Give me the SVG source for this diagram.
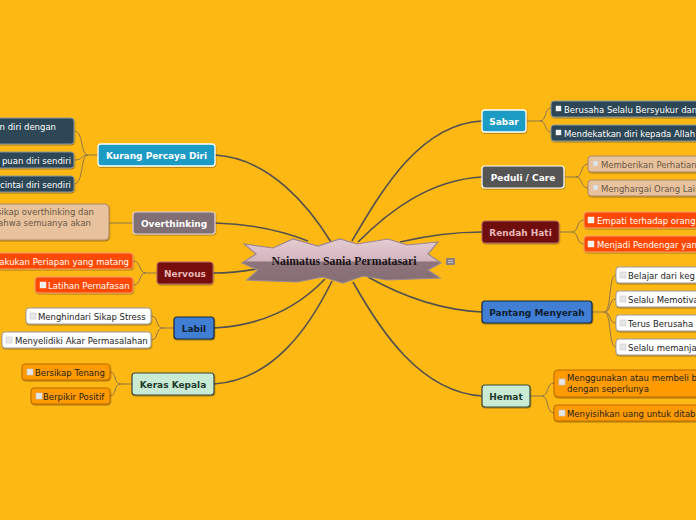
<svg xmlns="http://www.w3.org/2000/svg" width="696" height="520" viewBox="0 0 696 520">
<defs>
<linearGradient id="star" x1="0" y1="0" x2="0" y2="1">
<stop offset="0" stop-color="#e6ccd4"/>
<stop offset="0.5" stop-color="#d2b4bd"/>
<stop offset="0.52" stop-color="#8e747b"/>
<stop offset="1" stop-color="#856d74"/>
</linearGradient>
<filter id="sh" x="-10%" y="-20%" width="120%" height="150%">
<feDropShadow dx="0.5" dy="1" stdDeviation="0.6" flood-color="#000" flood-opacity="0.35"/>
</filter>
</defs>
<style>
.main{font-family:"DejaVu Sans",Verdana,sans-serif;font-size:9px;font-weight:bold;text-anchor:middle}
.sub{font-family:"DejaVu Sans",Verdana,sans-serif;font-size:8.5px}
.c0{fill:none;stroke:#505050;stroke-width:1.6}
.c1{fill:none;stroke:#8c7650;stroke-width:1}
.teal{fill:#1c9cc4;stroke:#fff;stroke-width:1.3}
.slate{fill:#2d4657;stroke:#8a9aa0;stroke-width:1}
.tan{fill:#e8c29c;stroke:#b08860;stroke-width:1}
.red{fill:#ff4a00;stroke:#f5a070;stroke-width:1}
.wht{fill:#ffffff;stroke:#9a9a9a;stroke-width:1}
.org{fill:#ff9a00;stroke:#b86a00;stroke-width:1}
.ico{fill:#e6e6e6;stroke:#c8c8c8;stroke-width:0.6}
.icoW{fill:#f0f0f0;stroke:#ffffff;stroke-width:0.4}
.tw{fill:#ffffff}
.td{fill:#222222}
.tt{fill:#6a5848}
</style>
<rect width="696" height="520" fill="#fdb813"/>

<g id="connectors">
<path class="c0" d="M215,155 C270,158 310,208 331,242"/>
<path class="c0" d="M215,223 C255,224 285,232 308,241"/>
<path class="c0" d="M213,273 C230,273 246,271 262,268"/>
<path class="c0" d="M214,328 C270,325 305,300 325,279"/>
<path class="c0" d="M214,384 C272,380 308,330 332,281"/>
<path class="c0" d="M352,241 C382,190 420,124 482,121"/>
<path class="c0" d="M358,242 C390,210 430,180 482,177"/>
<path class="c0" d="M400,242 C430,235 455,232 482,232"/>
<path class="c0" d="M368,277 C400,295 440,310 482,312"/>
<path class="c0" d="M353,282 C380,330 420,392 482,396"/>

<path class="c1" d="M98,155 H88 C80,155 84,131 74,131 M88,155 C80,155 84,160 74,160 M88,155 C80,155 84,184 74,184"/>
<path class="c1" d="M133,223 H109"/>
<path class="c1" d="M157,273 H146 C138,273 142,261 133,261 M146,273 C138,273 142,285 133,285"/>
<path class="c1" d="M174,328 H163 C155,328 159,316 151,316 M163,328 C155,328 159,340 151,340"/>
<path class="c1" d="M132,384 H121 C113,384 117,372 110,372 M121,384 C113,384 117,396 110,396"/>
<path class="c1" d="M526,121 H540 C547,121 544,108 551,108 M540,121 C547,121 544,132 551,132"/>
<path class="c1" d="M564,177 H576 C583,177 580,164 588,164 M576,177 C583,177 580,188 588,188"/>
<path class="c1" d="M559,232 H572 C579,232 576,220 584,220 M572,232 C579,232 576,244 584,244"/>
<path class="c1" d="M592,312 H604 C612,312 608,275 616,275 M604,312 C612,312 608,299 616,299 M604,312 C612,312 608,323 616,323 M604,312 C612,312 608,347 616,347"/>
<path class="c1" d="M530,396 H542 C549,396 546,383 554,383 M542,396 C549,396 546,413 554,413"/>
</g>

<g id="center">
<polygon points="244,244 273,248 293,239 318,246 340,239 357,244 388,239 407,245 438,242 428,254 441,263 428,270 440,278 387,280 363,276 343,283 323,277 297,282 247,280 258,270 242,263 256,254" fill="url(#star)" stroke="#9a8890" stroke-width="1.2"/>
<text x="344" y="265" font-family="'Liberation Serif','DejaVu Serif',serif" font-size="11.8" font-weight="bold" text-anchor="middle" fill="#1a1418">Naimatus Sania Permatasari</text>
<rect x="446" y="258" width="9" height="7" rx="1" fill="#8a8084"/>
<path d="M448,262.5 h5 M448,260.5 h5" stroke="#d8d0d2" stroke-width="0.8"/>
</g>

<g id="kurang">
<rect x="98" y="144" width="117" height="22" rx="3" class="teal" filter="url(#sh)"/>
<text x="156.5" y="158.5" class="main tw">Kurang Percaya Diri</text>
</g>
<g id="kurang-1">
<rect x="-150" y="118" width="224" height="26" rx="3" class="slate" filter="url(#sh)"/>
<text x="56" y="130" class="sub tw" text-anchor="end">n diri dengan</text>
</g>
<g id="kurang-2">
<rect x="-150" y="152" width="224" height="16" rx="3" class="slate" filter="url(#sh)"/>
<text x="71" y="163.5" class="sub tw" text-anchor="end">puan diri sendiri</text>
</g>
<g id="kurang-3">
<rect x="-150" y="176" width="224" height="16" rx="3" class="slate" filter="url(#sh)"/>
<text x="71" y="187.5" class="sub tw" text-anchor="end">cintai diri sendiri</text>
</g>

<g id="overthinking">
<rect x="133" y="212" width="82" height="22" rx="3" fill="#806f74" stroke="#e0d4d8" stroke-width="1.2" filter="url(#sh)"/>
<text x="174" y="226.5" class="main tw">Overthinking</text>
</g>
<g id="overthinking-1">
<rect x="-150" y="204" width="259" height="36" rx="4" class="tan" filter="url(#sh)"/>
<text x="94" y="215" class="sub tt" text-anchor="end">sikap overthinking dan</text>
<text x="91" y="226" class="sub tt" text-anchor="end">ahwa semuanya akan</text>
</g>

<g id="nervous">
<rect x="157" y="262" width="56" height="22" rx="3" fill="#780c0c" stroke="#b06868" stroke-width="1" filter="url(#sh)"/>
<text x="185" y="276.5" class="main" fill="#e8b8b8">Nervous</text>
</g>
<g id="nervous-1">
<rect x="-150" y="253" width="283" height="16" rx="3" class="red" filter="url(#sh)"/>
<text x="129" y="264.5" class="sub tw" text-anchor="end">akukan Periapan yang matang</text>
</g>
<g id="nervous-2">
<rect x="35" y="277" width="98" height="16" rx="3" class="red" filter="url(#sh)"/>
<rect x="40" y="282" width="6" height="6" class="icoW"/>
<text x="48" y="288.5" class="sub tw">Latihan Pernafasan</text>
</g>

<g id="labil">
<rect x="174" y="317" width="40" height="22" rx="3" fill="#3f7fd4" stroke="#1a2a40" stroke-width="1.2" filter="url(#sh)"/>
<text x="194" y="331.5" class="main" fill="#0e1e30">Labil</text>
</g>
<g id="labil-1">
<rect x="26" y="308" width="125" height="16" rx="3" class="wht" filter="url(#sh)"/>
<rect x="30" y="313" width="6" height="6" class="ico"/>
<text x="38" y="319.5" class="sub td">Menghindari Sikap Stress</text>
</g>
<g id="labil-2">
<rect x="2" y="332" width="149" height="16" rx="3" class="wht" filter="url(#sh)"/>
<rect x="6" y="337" width="6" height="6" class="ico"/>
<text x="15" y="343.5" class="sub td">Menyelidiki Akar Permasalahan</text>
</g>

<g id="keras">
<rect x="132" y="373" width="82" height="22" rx="3" fill="#c9ead3" stroke="#3a4a3e" stroke-width="1.2" filter="url(#sh)"/>
<text x="173" y="387.5" class="main" fill="#1e3a2e">Keras Kepala</text>
</g>
<g id="keras-1">
<rect x="22" y="364" width="88" height="16" rx="3" class="org" filter="url(#sh)"/>
<rect x="27" y="369" width="6" height="6" class="ico"/>
<text x="35" y="375.5" class="sub td">Bersikap Tenang</text>
</g>
<g id="keras-2">
<rect x="31" y="388" width="79" height="16" rx="3" class="org" filter="url(#sh)"/>
<rect x="36" y="393" width="6" height="6" class="ico"/>
<text x="43" y="399.5" class="sub td">Berpikir Positif</text>
</g>

<g id="sabar">
<rect x="482" y="110" width="44" height="22" rx="3" class="teal" filter="url(#sh)"/>
<text x="504" y="124.5" class="main tw">Sabar</text>
</g>
<g id="sabar-1">
<rect x="551" y="101" width="200" height="16" rx="3" class="slate" filter="url(#sh)"/>
<rect x="556" y="106" width="5" height="5" class="icoW"/>
<text x="564" y="112.5" class="sub tw">Berusaha Selalu Bersyukur dan</text>
</g>
<g id="sabar-2">
<rect x="551" y="125" width="200" height="16" rx="3" class="slate" filter="url(#sh)"/>
<rect x="556" y="130" width="5" height="5" class="icoW"/>
<text x="564" y="136.5" class="sub tw">Mendekatkan diri kepada Allah</text>
</g>

<g id="peduli">
<rect x="482" y="166" width="82" height="22" rx="3" fill="#545454" stroke="#ffffff" stroke-width="1.2" filter="url(#sh)"/>
<text x="523" y="180.5" class="main tw">Peduli / Care</text>
</g>
<g id="peduli-1">
<rect x="588" y="156" width="160" height="16" rx="3" class="tan" filter="url(#sh)"/>
<rect x="593" y="161" width="5" height="5" class="ico"/>
<text x="601" y="167.5" class="sub tt">Memberikan Perhatian</text>
</g>
<g id="peduli-2">
<rect x="588" y="180" width="160" height="16" rx="3" class="tan" filter="url(#sh)"/>
<rect x="593" y="185" width="5" height="5" class="ico"/>
<text x="601" y="191.5" class="sub tt">Menghargai Orang Lain</text>
</g>

<g id="rendah">
<rect x="482" y="221" width="77" height="22" rx="3" fill="#700a0a" stroke="#b06868" stroke-width="1" filter="url(#sh)"/>
<text x="520.5" y="235.5" class="main" fill="#e8b8b8">Rendah Hati</text>
</g>
<g id="rendah-1">
<rect x="584" y="212" width="160" height="16" rx="3" class="red" filter="url(#sh)"/>
<rect x="588" y="217" width="6" height="6" class="icoW"/>
<text x="597" y="223.5" class="sub tw">Empati terhadap orang</text>
</g>
<g id="rendah-2">
<rect x="584" y="236" width="160" height="16" rx="3" class="red" filter="url(#sh)"/>
<rect x="588" y="241" width="6" height="6" class="icoW"/>
<text x="597" y="247.5" class="sub tw">Menjadi Pendengar yan</text>
</g>

<g id="pantang">
<rect x="482" y="301" width="110" height="22" rx="3" fill="#3f7fd4" stroke="#1a2a40" stroke-width="1.2" filter="url(#sh)"/>
<text x="537" y="315.5" class="main" fill="#0e1e30">Pantang Menyerah</text>
</g>
<g id="pantang-1">
<rect x="616" y="267" width="120" height="16" rx="3" class="wht" filter="url(#sh)"/>
<rect x="620" y="272" width="6" height="6" class="ico"/>
<text x="628" y="278.5" class="sub td">Belajar dari keg</text>
</g>
<g id="pantang-2">
<rect x="616" y="291" width="120" height="16" rx="3" class="wht" filter="url(#sh)"/>
<rect x="620" y="296" width="6" height="6" class="ico"/>
<text x="628" y="302.5" class="sub td">Selalu Memotiva</text>
</g>
<g id="pantang-3">
<rect x="616" y="315" width="120" height="16" rx="3" class="wht" filter="url(#sh)"/>
<rect x="620" y="320" width="6" height="6" class="ico"/>
<text x="628" y="326.5" class="sub td">Terus Berusaha</text>
</g>
<g id="pantang-4">
<rect x="616" y="339" width="120" height="16" rx="3" class="wht" filter="url(#sh)"/>
<rect x="620" y="344" width="6" height="6" class="ico"/>
<text x="628" y="350.5" class="sub td">Selalu memanja</text>
</g>

<g id="hemat">
<rect x="482" y="385" width="48" height="22" rx="3" fill="#c9ead3" stroke="#3a4a3e" stroke-width="1.2" filter="url(#sh)"/>
<text x="506" y="399.5" class="main" fill="#1e3a2e">Hemat</text>
</g>
<g id="hemat-1">
<rect x="554" y="370" width="200" height="27" rx="4" class="org" filter="url(#sh)"/>
<rect x="559" y="379" width="6" height="6" class="ico"/>
<text x="567" y="381" class="sub td">Menggunakan atau membeli b</text>
<text x="567" y="392" class="sub td">dengan seperlunya</text>
</g>
<g id="hemat-2">
<rect x="554" y="405" width="200" height="16" rx="3" class="org" filter="url(#sh)"/>
<rect x="559" y="410" width="6" height="6" class="ico"/>
<text x="567" y="416.5" class="sub td">Menyisihkan uang untuk ditab</text>
</g>
</svg>
